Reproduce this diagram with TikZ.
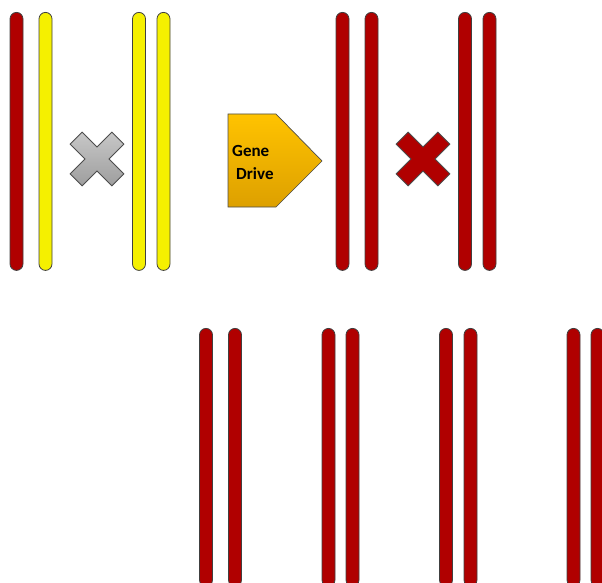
\documentclass[tikz,border=0pt]{standalone}
\usepackage{fontspec}
\setmainfont{Carlito}
\begin{document}
\begin{tikzpicture}[x=1pt,y=-1pt,
  chrom/.style={draw=black!75,line width=0.8pt,rounded corners=6.5pt,
    minimum width=13pt,minimum height=258pt,inner sep=0pt,anchor=north,
    fill=#1},
  chrom/.default=chromred,
  crossshape/.style={draw=black!70,line width=0.8pt},
  lbl/.style={font=\bfseries\fontsize{17}{17}\selectfont,inner sep=0pt,text=black}
]
\definecolor{chromred}{HTML}{B00000}
\definecolor{chromyellow}{HTML}{F5F000}
\definecolor{drivetop}{HTML}{FFC300}
\definecolor{drivebot}{HTML}{DDA000}
\useasboundingbox (0,0) rectangle (602,583);
\clip (0,0) rectangle (602,583);

% parent generation: left pair and wild-type pair
\node[chrom=chromred]    (p1a) at (16.5,12) {};
\node[chrom=chromyellow] (p1b) at (45.5,12) {};
\node[chrom=chromyellow] (p2a) at (139,12) {};
\node[chrom=chromyellow] (p2b) at (163.5,12) {};

% grey cross between the parents
\begin{scope}[shift={(97,159)},rotate=45]
  \draw[crossshape,top color=black!22,bottom color=black!38]
    (8.5,-29.5) -- (8.5,-8.5) -- (29.5,-8.5) -- (29.5,8.5) -- (8.5,8.5) -- (8.5,29.5) -- (-8.5,29.5)
    -- (-8.5,8.5) -- (-29.5,8.5) -- (-29.5,-8.5) -- (-8.5,-8.5) -- (-8.5,-29.5) -- cycle;
\end{scope}

% gene drive arrow
\draw[draw=black!70,line width=0.7pt,top color=drivetop,bottom color=drivebot]
  (228,114) -- (276,114) -- (322,161) -- (276,207) -- (228,207) -- cycle;
\node[lbl,anchor=base west] (gene) at (232,156) {Gene};
\node[lbl,anchor=base west] (drive) at (236,179) {Drive};

% converted pairs after the drive
\node[chrom] (q1a) at (342.5,12) {};
\node[chrom] (q1b) at (371.5,12) {};
\node[chrom] (q2a) at (465,12) {};
\node[chrom] (q2b) at (489.5,12) {};

% red cross between the converted pairs
\begin{scope}[shift={(423,159)},rotate=45]
  \draw[crossshape,fill=chromred]
    (8.5,-29.5) -- (8.5,-8.5) -- (29.5,-8.5) -- (29.5,8.5) -- (8.5,8.5) -- (8.5,29.5) -- (-8.5,29.5)
    -- (-8.5,8.5) -- (-29.5,8.5) -- (-29.5,-8.5) -- (-8.5,-8.5) -- (-8.5,-29.5) -- cycle;
\end{scope}

% offspring: all pairs red
\node[chrom] (o1a) at (206,328) {};
\node[chrom] (o1b) at (235,328) {};
\node[chrom] (o2a) at (328.5,328) {};
\node[chrom] (o2b) at (352.5,328) {};
\node[chrom] (o3a) at (446,328) {};
\node[chrom] (o3b) at (470.5,328) {};
\node[chrom] (o4a) at (573.5,328) {};
\node[chrom] (o4b) at (597.5,328) {};
\end{tikzpicture}
\end{document}
